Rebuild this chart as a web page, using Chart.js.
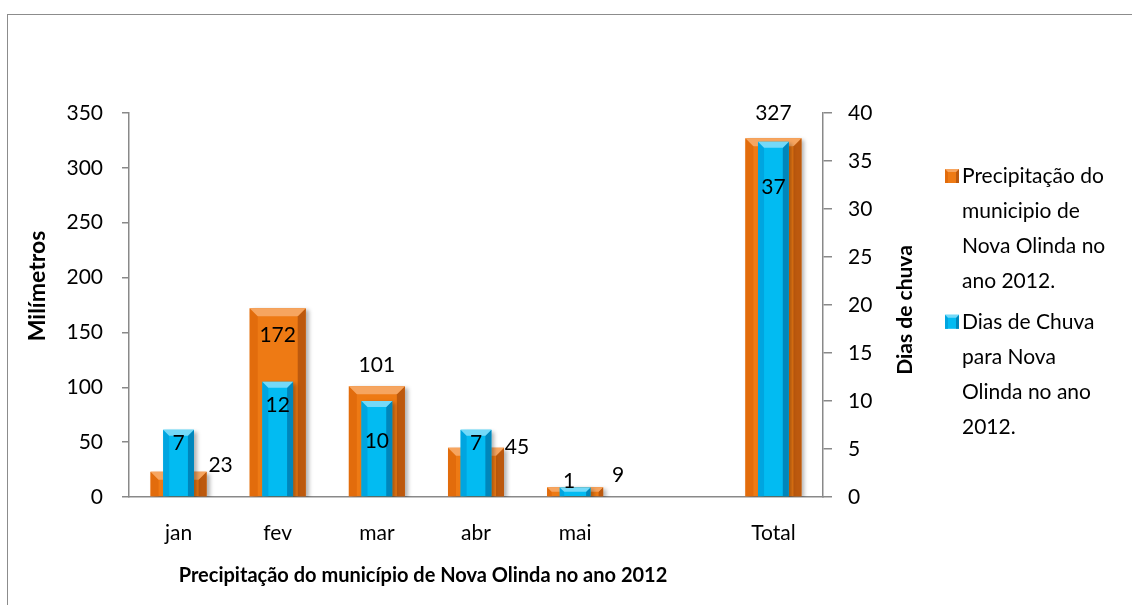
<!DOCTYPE html>
<html>
<head>
<meta charset="utf-8">
<script src="https://cdn.jsdelivr.net/npm/chart.js@4.4.1/dist/chart.umd.min.js"></script>
<style>
html, body { margin: 0; padding: 0; background: #fff; overflow: hidden; }
#wrap { position: relative; width: 1132px; height: 605px; }
#frame { position: absolute; left: 7px; top: 14px; width: 1200px; height: 700px; border: 1px solid #8c8c8c; }
#chart { position: absolute; left: 0; top: 0; }
</style>
</head>
<body>
<div id="wrap"><div id="frame"></div><canvas id="chart" width="1132" height="605"></canvas></div>
<script>
// data
const months = ['jan', 'fev', 'mar', 'abr', 'mai', '', 'Total'];
const rainMm = [23, 172, 101, 45, 9, null, 327];
const rainDays = [7, 12, 10, 7, 1, null, 37];
const mmMax = 350, mmStep = 50;
const daysMax = 40, daysStep = 5;
const legendMm = ['Precipitação do', 'municipio de', 'Nova Olinda no', 'ano 2012.'];
const legendDays = ['Dias de Chuva', 'para Nova', 'Olinda no ano', '2012.'];
const xTitle = 'Precipitação do município de Nova Olinda no ano 2012';
const yTitle = 'Milímetros';
const y1Title = 'Dias de chuva';

// label offsets from the bar top (dx, dy), as placed in the original
const mmLabelShift = [[42, -7], [0, 27], [0, -21], [41, 0], [43, -12], null, [0, -25]];
const daysLabelShift = [[0, 13], [0, 23], [0, 40], [0, 13], [-6, -6], null, [0, 45]];

const gray = '#898989';
const orange = {body: '#EE7A14', top: '#F6A560', left: '#E26C0C', right: '#BC590E'};
const blue = {body: '#02BBF2', top: '#74D9F8', left: '#00A5E0', right: '#0086BB'};

Chart.defaults.font.family = 'Lato';
Chart.defaults.color = '#000';

function poly(ctx, pts) {
    ctx.beginPath();
    ctx.moveTo(pts[0], pts[1]);
    for (let i = 2; i < pts.length; i += 2) ctx.lineTo(pts[i], pts[i + 1]);
    ctx.closePath();
    ctx.fill();
}

function bevel(ctx, x, top, base, w, c, b) {
    const l = x - w / 2, r = x + w / 2;
    b = Math.min(b, (base - top) / 2, w / 4);
    ctx.fillStyle = c.left;
    poly(ctx, [l, top, l + b, top + b, l + b, base, l, base]);
    ctx.fillStyle = c.right;
    poly(ctx, [r, top, r - b, top + b, r - b, base, r, base]);
    ctx.fillStyle = c.top;
    poly(ctx, [l, top, r, top, r - b, top + b, l + b, top + b]);
}

function rotatedText(ctx, text, x, y, font) {
    ctx.save();
    ctx.translate(x, y);
    ctx.rotate(-Math.PI / 2);
    ctx.font = font;
    ctx.textAlign = 'center';
    ctx.textBaseline = 'middle';
    ctx.fillText(text, 0, 0);
    ctx.restore();
}

const bevelPlugin = {
    id: 'bevel',
    beforeDatasetDraw(chart) {
        const ctx = chart.ctx;
        ctx.shadowColor = 'rgba(0,0,0,0.3)';
        ctx.shadowBlur = 4;
        ctx.shadowOffsetX = 3;
        ctx.shadowOffsetY = 2;
    },
    afterDatasetDraw(chart, args) {
        const ctx = chart.ctx;
        ctx.shadowColor = 'transparent';
        const c = args.index === 0 ? orange : blue;
        const b = args.index === 0 ? 8 : 6;
        ctx.save();
        args.meta.data.forEach((bar, i) => {
            if (chart.data.datasets[args.index].data[i] == null) return;
            bevel(ctx, bar.x, bar.y, bar.base, bar.width, c, b);
        });
        ctx.restore();
    },
    afterDatasetsDraw(chart) {
        const ctx = chart.ctx;
        ctx.save();
        ctx.font = '21px Lato';
        ctx.fillStyle = '#000';
        ctx.textAlign = 'center';
        ctx.textBaseline = 'middle';
        [[0, rainMm, mmLabelShift], [1, rainDays, daysLabelShift]].forEach(([di, vals, shift]) => {
            const meta = chart.getDatasetMeta(di);
            meta.data.forEach((bar, i) => {
                if (vals[i] == null) return;
                ctx.fillText(String(vals[i]), bar.x + shift[i][0], bar.y + shift[i][1]);
            });
        });
        ctx.restore();
    },
    afterDraw(chart) {
        const ctx = chart.ctx;
        const area = chart.chartArea;
        ctx.fillStyle = '#000';

        // axis titles, placed as in the original
        rotatedText(ctx, yTitle, 38, area.top + 173, 'bold 23px Lato');
        rotatedText(ctx, y1Title, area.right + 82, area.top + 197, 'bold 21px Lato');
        ctx.save();
        ctx.font = 'bold 20px Lato';
        ctx.textAlign = 'center';
        ctx.textBaseline = 'middle';
        ctx.fillText(xTitle, area.left + 294, area.bottom + 79);
        ctx.restore();

        // legend
        ctx.save();
        const lx = area.right + 122;
        let ly = area.top + 63;
        ctx.font = '21px Lato';
        ctx.textBaseline = 'middle';
        [[legendMm, orange], [legendDays, blue]].forEach(([lines, c]) => {
            ctx.fillStyle = c.body;
            ctx.fillRect(lx, ly - 7, 14, 14);
            bevel(ctx, lx + 7, ly - 7, ly + 7, 14, c, 3);
            ctx.fillStyle = '#000';
            lines.forEach((t, k) => ctx.fillText(t, lx + 17, ly + k * 35.2));
            ly += lines.length * 35.2 + 5;
        });
        ctx.restore();
    }
};

new Chart(document.getElementById('chart'), {
    type: 'bar',
    data: {
        labels: months,
        datasets: [{
            label: legendMm.join(' '),
            data: rainMm,
            yAxisID: 'y',
            backgroundColor: orange.body,
            grouped: false,
            barPercentage: 0.565,
            categoryPercentage: 1,
            order: 1
        }, {
            label: legendDays.join(' '),
            data: rainDays,
            yAxisID: 'y1',
            backgroundColor: blue.body,
            grouped: false,
            barPercentage: 0.31,
            categoryPercentage: 1,
            order: 0
        }]
    },
    options: {
        responsive: false,
        animation: false,
        layout: {padding: {top: 113, left: 0, right: 0, bottom: 0}},
        plugins: {
            legend: {display: false},
            tooltip: {enabled: false}
        },
        scales: {
            x: {
                grid: {display: true, drawOnChartArea: false, drawTicks: false},
                border: {color: gray, width: 1.5},
                ticks: {font: {size: 21}, padding: 24},
                afterFit(scale) { scale.height = 108; }
            },
            y: {
                position: 'left',
                min: 0,
                max: mmMax,
                ticks: {stepSize: mmStep, font: {size: 21}, padding: 19},
                grid: {drawOnChartArea: false, drawTicks: true, tickLength: 7, color: gray, lineWidth: 1.5},
                border: {color: gray, width: 1.5},
                afterFit(scale) { scale.width = 129; }
            },
            y1: {
                position: 'right',
                min: 0,
                max: daysMax,
                ticks: {stepSize: daysStep, font: {size: 21}, padding: 16},
                grid: {drawOnChartArea: false, drawTicks: true, tickLength: 9, color: gray, lineWidth: 1.5},
                border: {color: gray, width: 1.5},
                afterFit(scale) { scale.width = 1132 - 823; }
            }
        }
    },
    plugins: [bevelPlugin]
});
</script>
</body>
</html>
